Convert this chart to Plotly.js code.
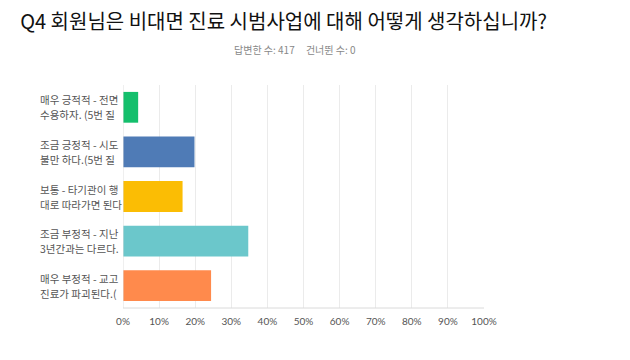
<!DOCTYPE html>
<html><head><meta charset="utf-8">
<script src="https://cdn.plot.ly/plotly-3.0.1.min.js"></script>
<style>html,body{margin:0;padding:0;background:#fff}#chart{width:630px;height:360px}</style>
</head><body><div id="chart"></div>
<script>
const categories = ["c1","c2","c3","c4","c5"];
const labelLine1 = ["매우 긍적적 - 전면","조금 긍정적 - 시도","보통 - 타기관이 행","조금 부정적 - 지난","매우 부정적 - 교고"];
const labelLine2 = ["수용하자. (5번 질","불만 하다.(5번 질","대로 따라가면 된다","3년간과는 다르다.","진료가 파괴된다.("];
const percents = [4.2, 19.8, 16.5, 34.7, 24.4];
const colors = ["#14bf6c","#4f7bb6","#fbbd04","#6bc7cb","#ff8a4c"];
const tickVals = [0,10,20,30,40,50,60,70,80,90,100];
const tickText = tickVals.map(v => v + "%");
const titleText = "Q4 회원님은 비대면 진료 시범사업에 대해 어떻게 생각하십니까?";
const subtitleText = "답변한 수: 417&nbsp;&nbsp;&nbsp;&nbsp;&nbsp;건너뛴 수: 0";

const trace = {
  type: "bar", orientation: "h",
  x: percents, y: categories,
  marker: {color: colors},
  hoverinfo: "none"
};
const labelFont = {family: "Noto Sans CJK KR, sans-serif", size: 10.5, color: "#555"};
const annotations = [];
categories.forEach((c, i) => {
  annotations.push({xref: "paper", yref: "y", x: -0.236, y: c, xanchor: "left", yanchor: "middle",
    yshift: 7.5, text: labelLine1[i], showarrow: false, font: labelFont});
  annotations.push({xref: "paper", yref: "y", x: -0.236, y: c, xanchor: "left", yanchor: "middle",
    yshift: -7.5, text: labelLine2[i], showarrow: false, font: labelFont});
});
annotations.push({
  xref: "paper", yref: "paper", x: 0.477, y: 1.157, xanchor: "center", yanchor: "middle",
  text: subtitleText, showarrow: false,
  font: {family: "Noto Sans CJK KR, sans-serif", size: 10, color: "#888"}
});
const layout = {
  width: 630, height: 360,
  margin: {l: 123, r: 146, t: 85, b: 52},
  title: {text: titleText, x: 0.032, xanchor: "left", y: 0.94, yanchor: "middle",
    font: {family: "Noto Sans CJK KR, sans-serif", size: 20, color: "#111"}},
  showlegend: false,
  bargap: 0.31,
  xaxis: {range: [0, 100], tickvals: tickVals, ticktext: tickText, showgrid: true,
    gridcolor: "#ebebeb", zeroline: false, showline: false, ticks: "", ticklabelstandoff: 6,
    tickfont: {family: "Lato, sans-serif", size: 10, color: "#555"}, fixedrange: true},
  yaxis: {autorange: "reversed", showticklabels: false, showgrid: false, zeroline: false,
    showline: false, ticks: ""},
  shapes: [
    {type: "line", xref: "x", yref: "paper", x0: 0, x1: 0, y0: 0, y1: 1, line: {color: "#e0e0e0", width: 1}},
    {type: "line", xref: "paper", yref: "paper", x0: 0, x1: 1, y0: 0, y1: 0, line: {color: "#dadada", width: 1}}
  ],
  annotations: annotations,
  paper_bgcolor: "#fff", plot_bgcolor: "#fff"
};
Plotly.newPlot("chart", [trace], layout, {displayModeBar: false, staticPlot: true});
</script></body></html>
